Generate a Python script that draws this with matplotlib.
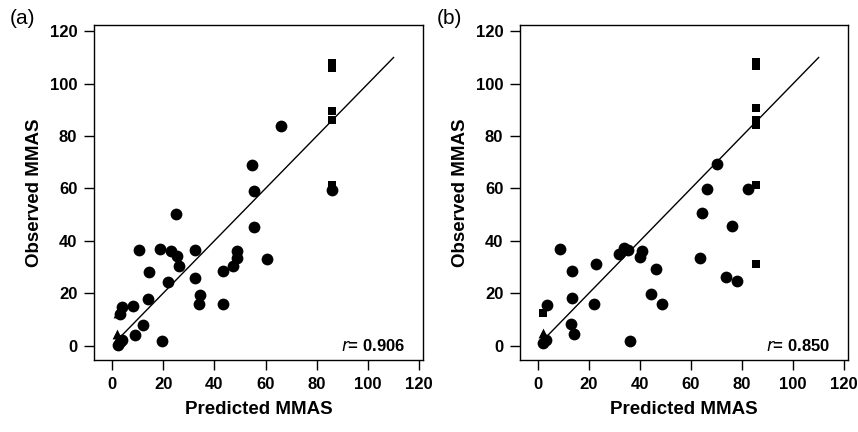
import numpy as np
import matplotlib.pyplot as plt

plt.rcParams['font.family'] = ['Liberation Sans', 'DejaVu Sans']

# panel (a): predicted vs observed MMAS
a_circ_x = [66.1, 54.9, 55.5, 24.9, 55.5, 10.6, 18.9, 23.2, 25.5, 26.3, 32.3, 48.8, 48.8,
            47.2, 43.5, 60.5, 14.5, 21.9, 32.3, 34.3, 34.0, 43.5, 14.1, 4.0, 8.1, 3.1,
            12.2, 9.0, 19.6, 86.0, 3.8, 2.5, 3.0]
a_circ_y = [84.0, 68.9, 59.0, 50.3, 45.4, 36.5, 37.0, 36.3, 34.2, 30.5, 36.5, 36.1, 33.3,
            30.5, 28.6, 33.0, 28.0, 24.2, 25.7, 19.5, 15.8, 15.9, 17.7, 14.9, 15.2, 12.1,
            7.8, 4.1, 1.8, 59.4, 2.2, 0.4, 1.5]
a_sq_x = [86.0, 86.0, 86.0, 86.0, 86.0]
a_sq_y = [107.8, 105.9, 89.7, 86.1, 61.5]
a_tri_x = [2.0, 2.5]
a_tri_y = [4.5, 12.5]
a_r = "0.906"

# panel (b)
b_circ_x = [70.3, 66.1, 82.5, 64.3, 75.9, 63.4, 73.9, 78.0, 8.8, 31.6, 33.6, 35.2, 40.8,
            40.0, 22.7, 13.2, 46.4, 13.2, 22.1, 44.3, 48.8, 3.5, 12.8, 14.0, 35.9, 3.3, 2.0]
b_circ_y = [69.4, 59.8, 59.8, 50.8, 45.8, 33.5, 26.1, 24.7, 36.8, 34.9, 37.2, 36.5, 36.3,
            33.7, 31.1, 28.3, 29.2, 18.3, 16.0, 19.6, 16.0, 15.4, 8.3, 4.6, 1.9, 2.0, 0.8]
b_sq_x = [85.4, 85.4, 85.4, 85.4, 85.4, 85.4, 85.4, 2.2]
b_sq_y = [108.4, 106.8, 90.6, 86.1, 84.2, 61.3, 31.1, 12.6]
b_tri_x = [2.0]
b_tri_y = [4.7]
b_r = "0.850"

line_x = [3, 110]
line_y = [3, 110]
ticks = [0, 20, 40, 60, 80, 100, 120]

fig = plt.figure(figsize=(8.58, 4.32), dpi=100)
ax_a = fig.add_axes([94 / 858, 1 - 360 / 432, 329 / 858, 335 / 432])
ax_b = fig.add_axes([520 / 858, 1 - 360 / 432, 328 / 858, 335 / 432])

panels = [
    (ax_a, "(a)", a_circ_x, a_circ_y, a_sq_x, a_sq_y, a_tri_x, a_tri_y, a_r),
    (ax_b, "(b)", b_circ_x, b_circ_y, b_sq_x, b_sq_y, b_tri_x, b_tri_y, b_r),
]

for ax, lab, cx, cy, sx, sy, tx, ty, r in panels:
    ax.plot(line_x, line_y, color="black", lw=1.0, zorder=1)
    ax.scatter(sx, sy, marker="s", s=30, color="black", zorder=2, linewidths=0)
    ax.scatter(tx, ty, marker="^", s=50, color="black", zorder=2, linewidths=0)
    ax.scatter(cx, cy, marker="o", s=72, color="black", zorder=3, linewidths=0)
    ax.set_xlim(-7, 121.5)
    ax.set_ylim(-5.5, 122.4)
    ax.set_xticks(ticks)
    ax.set_yticks(ticks)
    ax.tick_params(direction="out", length=7, width=1, labelsize=12, pad=5)
    for t in ax.get_xticklabels() + ax.get_yticklabels():
        t.set_fontweight("bold")
    for sp in ax.spines.values():
        sp.set_linewidth(1.0)
    ax.set_xlabel("Predicted MMAS", fontsize=13.5, fontweight="bold", labelpad=7)
    ax.set_ylabel("Observed MMAS", fontsize=13.5, fontweight="bold", labelpad=5)
    ax.text(114.5, 0, "$r$= " + r, ha="right", va="center", fontsize=12,
            fontweight="bold")
    ax.text(-0.255, 1.02, lab, transform=ax.transAxes, fontsize=15, ha="left",
            va="center")

fig.savefig("out.png", dpi=100)
